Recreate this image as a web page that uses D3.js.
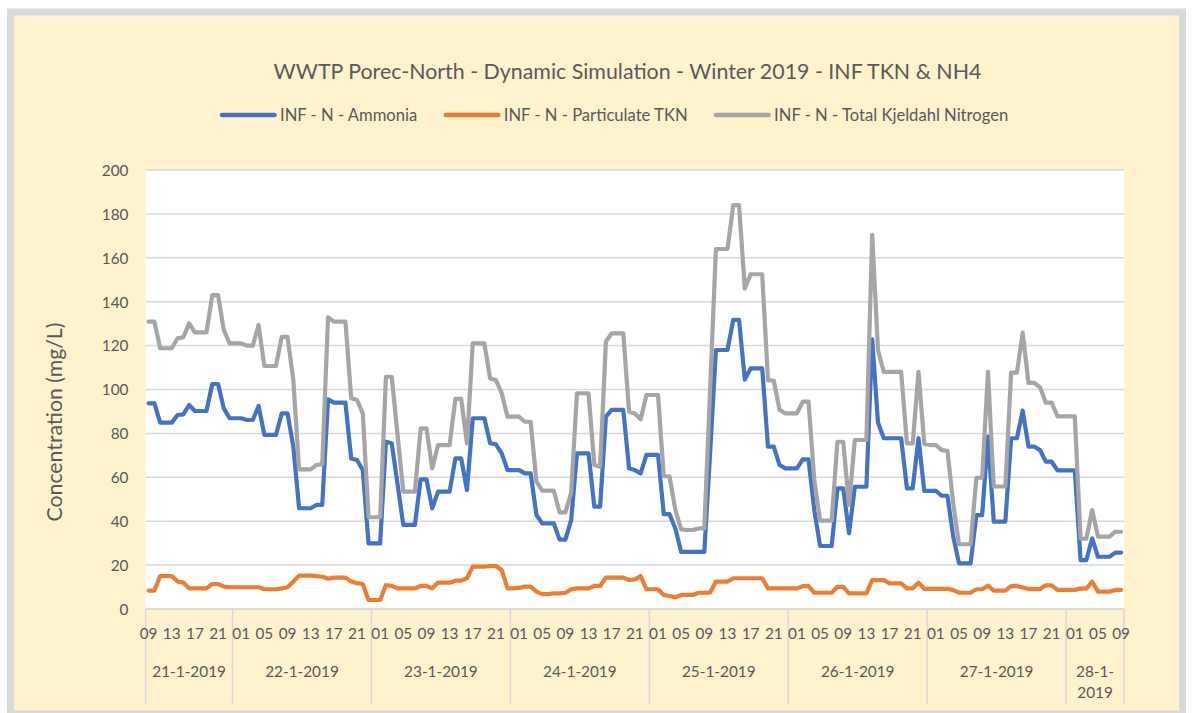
<!DOCTYPE html>
<html>
<head>
<meta charset="utf-8">
<script src="https://cdn.jsdelivr.net/npm/d3@7"></script>
<style>
  html, body { margin: 0; padding: 0; background: #ffffff; }
  svg { display: block; }
  text { font-family: Lato, "Open Sans", sans-serif; fill: #595959; }
</style>
</head>
<body>
<svg id="chart" width="1192" height="713"></svg>
<script>
// ---------------- DATA ----------------
const chartTitle = "WWTP Porec-North - Dynamic Simulation - Winter 2019 - INF TKN & NH4";
const yAxisTitle = "Concentration (mg/L)";
const seriesNames = ["INF - N - Ammonia", "INF - N - Particulate TKN", "INF - N - Total Kjeldahl Nitrogen"];
const days = ["21-1-2019", "22-1-2019", "23-1-2019", "24-1-2019", "25-1-2019", "26-1-2019", "27-1-2019", "28-1-2019"];
const firstHour = 9;   // first sample: 21-1-2019 09:00
const lastHour = 9;    // last sample: 28-1-2019 09:00
const hourLabelStep = 4;
const yTicks = [0, 20, 40, 60, 80, 100, 120, 140, 160, 180, 200];

const ammonia = [
  93.7,93.7,84.9,84.9,84.9,88.4,88.7,92.9,90.2,90.2,90.2,102.5,102.5,91.4,86.9,
  86.9,86.9,86.1,86.1,92.5,79.3,79.3,79.3,89.1,89.1,74.0,45.9,45.9,45.9,47.4,47.4,95.5,94.0,94.0,94.0,68.6,67.9,63.3,29.9,
  29.9,29.9,76.2,75.5,57.0,38.3,38.3,38.3,59.1,59.1,45.9,53.5,53.5,53.5,68.6,68.6,54.2,86.9,86.9,86.9,75.5,75.0,70.9,63.3,
  63.3,63.3,61.8,61.8,42.8,39.0,39.0,39.0,31.6,31.6,40.5,70.9,70.9,70.9,46.6,46.6,87.6,90.7,90.7,90.7,64.1,63.3,61.8,70.2,
  70.2,70.2,43.2,43.2,36.7,26.0,26.0,26.0,26.0,26.0,71.0,118.0,118.0,118.0,131.7,131.7,104.5,109.6,109.6,109.6,74.0,74.0,65.6,64.1,
  64.1,64.1,68.2,68.2,45.0,28.7,28.7,28.7,55.0,55.0,34.5,55.7,55.7,55.7,122.9,85.0,77.8,77.8,77.8,77.8,55.0,55.0,77.8,53.8,
  53.8,53.8,51.6,51.6,33.0,20.8,20.8,20.8,42.8,42.8,78.5,39.8,39.8,39.8,77.8,77.8,90.4,74.0,74.0,72.4,67.1,67.1,63.2,63.2,
  63.2,63.2,22.3,22.3,32.2,23.8,23.8,23.8,25.7,25.7
];
const particulateTKN = [
  8.4,8.4,15.0,15.0,15.0,12.5,12.1,9.4,9.4,9.4,9.4,11.4,11.4,10.2,9.9,
  9.9,9.9,9.9,9.9,9.9,9.0,9.0,9.0,9.4,9.9,12.5,15.2,15.2,15.2,15.0,14.7,13.8,14.3,14.3,14.3,12.5,11.8,11.4,4.1,
  4.1,4.1,10.9,10.5,9.4,9.4,9.4,9.4,10.5,10.5,9.4,12.0,12.0,12.0,12.9,12.9,14.0,19.3,19.3,19.3,19.6,19.6,17.8,9.4,
  9.4,9.6,10.2,10.2,7.9,6.8,6.8,7.1,7.1,7.4,9.0,9.4,9.4,9.4,10.5,10.5,14.3,14.3,14.3,14.3,13.2,13.5,15.0,9.0,
  9.0,9.0,6.4,5.9,5.3,6.4,6.4,6.4,7.4,7.4,7.4,12.5,12.5,12.5,14.0,14.0,14.0,14.0,14.0,14.0,9.4,9.4,9.4,9.4,
  9.4,9.4,10.4,10.4,7.4,7.4,7.4,7.4,10.1,10.1,7.1,7.1,7.1,7.1,13.2,13.2,13.2,11.7,11.7,11.7,9.4,9.4,12.0,9.2,
  9.2,9.2,9.2,9.2,8.6,7.4,7.4,7.4,9.0,9.0,10.6,8.4,8.4,8.4,10.4,10.4,9.8,9.1,9.1,9.1,10.8,10.8,8.7,8.7,
  8.7,8.7,9.3,9.3,12.5,7.9,7.9,7.9,8.7,8.7
];
const totalKjeldahlN = [
  130.9,130.9,118.8,118.8,118.8,123.3,123.8,130.1,126.0,126.0,126.0,143.0,143.0,127.0,121.0,
  121.0,121.0,120.0,120.0,129.4,110.7,110.7,110.7,124.0,124.0,104.3,63.6,63.6,63.6,65.6,66.0,132.9,130.9,130.9,130.9,96.0,95.2,89.1,41.8,
  41.8,41.8,105.8,105.8,79.6,53.5,53.5,53.5,82.3,82.3,64.1,74.7,74.7,74.7,95.7,95.7,75.5,121.0,121.0,121.0,105.0,104.3,98.3,87.6,
  87.6,87.6,85.3,85.3,58.0,53.9,53.9,53.9,44.0,44.0,53.0,98.3,98.3,98.3,65.6,64.8,121.8,125.6,125.6,125.6,89.9,89.1,86.4,97.5,
  97.5,97.5,60.6,60.3,45.1,36.3,36.0,36.0,36.7,36.7,100.0,164.0,164.0,164.0,184.0,184.0,146.0,152.5,152.5,152.5,104.3,104.0,90.7,89.1,
  89.1,89.1,94.5,94.5,58.8,40.3,40.3,40.3,76.2,76.2,47.4,77.0,77.0,77.0,170.5,118.0,108.0,108.0,108.0,108.0,75.5,75.5,108.0,75.2,
  74.7,74.7,72.4,72.1,48.0,29.5,29.5,29.5,59.8,59.8,108.0,55.8,55.8,55.8,107.7,107.7,125.9,103.0,103.0,101.0,94.0,94.0,87.8,87.8,
  87.8,87.8,32.0,32.0,45.1,33.0,33.0,33.0,35.2,35.2
];
const seriesColors = ["#4472C4", "#ED7D31", "#A5A5A5"];

// ---------------- CATEGORIES ----------------
const categories = [];
days.forEach((d, di) => {
  const h0 = di === 0 ? firstHour : 0;
  const h1 = di === days.length - 1 ? lastHour : 23;
  for (let h = h0; h <= h1; h++) categories.push({ day: d, dayIndex: di, hour: h });
});
categories.forEach((c, i) => c.index = i);

// ---------------- LAYOUT ----------------
const svg = d3.select("#chart");
const plot = { left: 145.7, right: 1124, top: 170, bottom: 609 };
const gridColor = "#D9D9D9";

// chart background & frame
svg.append("rect").attr("x", 10.5).attr("y", 12).attr("width", 1172).attr("height", 702)
  .attr("fill", "#FFF2CC").attr("stroke", "#D9D9D9").attr("stroke-width", 7);

// plot area
svg.append("rect").attr("x", plot.left).attr("y", plot.top)
  .attr("width", plot.right - plot.left).attr("height", plot.bottom - plot.top).attr("fill", "#ffffff");

const x = d3.scaleBand().domain(categories.map(c => c.index)).range([plot.left, plot.right]).paddingInner(0).paddingOuter(0);
const bw = x.bandwidth();
const cx = i => x(i) + bw / 2;
const y = d3.scaleLinear().domain([0, 200]).range([plot.bottom, plot.top]);

function fitFont(sel, target) {
  const w = sel.node().getComputedTextLength();
  const fs = parseFloat(sel.attr("font-size"));
  return fs * target / w;
}

// measure tick font
const probe = svg.append("text").attr("font-size", 16).text("200");
const tickFont = fitFont(probe, 26.7);
probe.remove();

// gridlines
svg.append("g").selectAll("line").data(yTicks).join("line")
  .attr("x1", plot.left).attr("x2", plot.right)
  .attr("y1", d => y(d)).attr("y2", d => y(d))
  .attr("stroke", gridColor).attr("stroke-width", 1.5);

// y axis labels (via d3 axis, then styled)
const yAxis = d3.axisLeft(y).tickValues(yTicks).tickSize(0).tickPadding(0).tickFormat(d3.format("d"));
const yg = svg.append("g").attr("transform", `translate(${128.5},0)`).call(yAxis);
yg.select(".domain").remove();
yg.selectAll("text").attr("font-size", tickFont).attr("fill", "#595959")
  .attr("font-family", "Lato, 'Open Sans', sans-serif").attr("dy", "0.35em");

// x axis: category separators (day boundaries)
const dayStarts = days.map((d, di) => categories.find(c => c.dayIndex === di).index);
const sepXs = dayStarts.map(i => x(i)).concat([plot.right]);
svg.append("g").selectAll("line").data(sepXs).join("line")
  .attr("x1", d => d).attr("x2", d => d).attr("y1", plot.bottom).attr("y2", 704)
  .attr("stroke", gridColor).attr("stroke-width", 1.5);

// hour labels
const hourCats = categories.filter(c => c.index % hourLabelStep === 0);
svg.append("g").selectAll("text").data(hourCats).join("text")
  .attr("x", c => cx(c.index)).attr("y", 639.3)
  .attr("text-anchor", "middle").attr("font-size", tickFont)
  .text(c => String(c.hour).padStart(2, "0"));

// day labels
const dg = svg.append("g");
days.forEach((d, di) => {
  const idx = categories.filter(c => c.dayIndex === di).map(c => c.index);
  const x0 = x(idx[0]), x1 = x(idx[idx.length - 1]) + bw;
  const mid = (x0 + x1) / 2;
  const t = dg.append("text").attr("x", mid).attr("y", 677).attr("text-anchor", "middle")
    .attr("font-size", tickFont).text(d);
  if (t.node().getComputedTextLength() > (x1 - x0) - 6) {
    const cut = d.lastIndexOf("-") + 1;
    t.text(null);
    t.append("tspan").attr("x", mid).attr("dy", 0).text(d.slice(0, cut));
    t.append("tspan").attr("x", mid).attr("dy", 20.6).text(d.slice(cut));
  }
});

// x axis line at 0
svg.append("line").attr("x1", plot.left).attr("x2", plot.right)
  .attr("y1", y(0)).attr("y2", y(0)).attr("stroke", gridColor).attr("stroke-width", 1.5);

// series lines
const seriesData = [ammonia, particulateTKN, totalKjeldahlN];
const line = d3.line().x((v, i) => cx(i)).y(v => y(v));
svg.append("g").selectAll("path").data(seriesData).join("path")
  .attr("d", d => line(d)).attr("fill", "none")
  .attr("stroke", (d, k) => seriesColors[k]).attr("stroke-width", 4.2)
  .attr("stroke-linejoin", "round").attr("stroke-linecap", "round");

// title
const title = svg.append("text").attr("x", 627.5).attr("y", 78.5).attr("text-anchor", "middle")
  .attr("font-size", 20).text(chartTitle);
title.attr("font-size", fitFont(title, 708.4));

// legend
const lg = svg.append("g");
const legendProbe = lg.append("text").attr("font-size", 16).text(seriesNames[0]);
const legendFont = fitFont(legendProbe, 137.3);
legendProbe.remove();
let lx = 220;
seriesNames.forEach((name, k) => {
  lg.append("line").attr("x1", lx + 2).attr("x2", lx + 54.5).attr("y1", 115).attr("y2", 115)
    .attr("stroke", seriesColors[k]).attr("stroke-width", 4.6).attr("stroke-linecap", "round");
  const t = lg.append("text").attr("x", lx + 60).attr("y", 121).attr("font-size", legendFont).text(name);
  lx = lx + 60 + t.node().getComputedTextLength() + 26.5;
});

// y axis title (centred on the plot area including its category labels)
const yt = svg.append("text").attr("font-size", 16).attr("text-anchor", "middle")
  .attr("transform", `translate(62,422) rotate(-90)`).text(yAxisTitle);
yt.attr("font-size", fitFont(yt, 199));
</script>
</body>
</html>
